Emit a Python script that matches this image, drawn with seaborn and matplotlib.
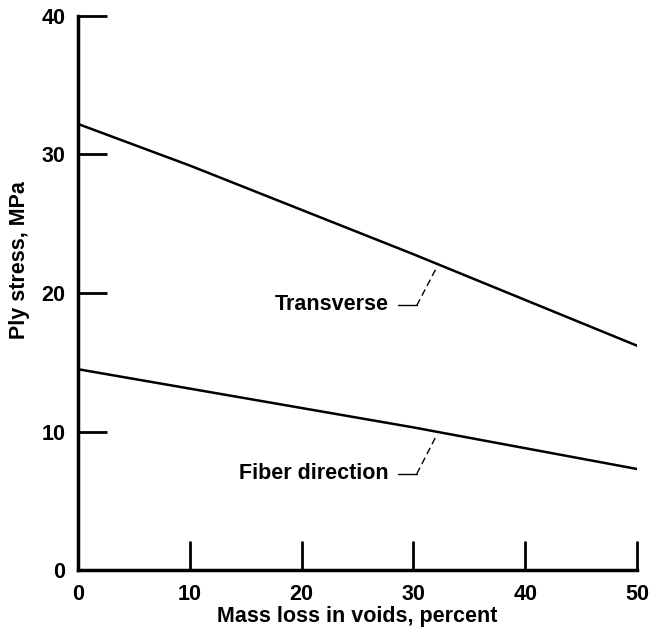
import matplotlib
matplotlib.use("Agg")
import matplotlib.pyplot as plt
import seaborn as sns
import pandas as pd

mass_loss = [0, 10, 20, 30, 40, 50]
transverse = [32.2, 29.2, 26.0, 22.8, 19.5, 16.2]
fiber = [14.5, 13.1, 11.7, 10.3, 8.8, 7.3]
x_ticks = [0, 10, 20, 30, 40, 50]
y_ticks = [0, 10, 20, 30, 40]

df = pd.DataFrame({
    "x": mass_loss * 2,
    "y": transverse + fiber,
    "series": ["Transverse"] * len(mass_loss) + ["Fiber direction"] * len(mass_loss),
})

sns.set_style("ticks")
plt.rcParams["font.family"] = ["Liberation Sans", "DejaVu Sans"]
plt.rcParams["font.weight"] = "bold"
plt.rcParams["text.color"] = "black"
plt.rcParams["axes.labelcolor"] = "black"
plt.rcParams["xtick.color"] = "black"
plt.rcParams["ytick.color"] = "black"

FS = 15.5

fig = plt.figure(figsize=(6.56, 6.37), dpi=100)
ax = fig.add_axes([0.119, 0.105, 0.852, 0.87])

sns.lineplot(data=df, x="x", y="y", hue="series", palette=["black", "black"],
             linewidth=1.8, legend=False, ax=ax)

ax.set_xlim(0, 50)
ax.set_ylim(0, 40)
ax.set_xticks(x_ticks)
ax.set_yticks(y_ticks)
ax.tick_params(axis="both", direction="in", length=21, width=2, labelsize=FS,
               colors="black", labelcolor="black")
ax.tick_params(axis="x", pad=10)
ax.tick_params(axis="y", pad=9)
for lab in ax.get_xticklabels() + ax.get_yticklabels():
    lab.set_fontweight("bold")
sns.despine(ax=ax)
for s in ["left", "bottom"]:
    ax.spines[s].set_linewidth(2.5)
    ax.spines[s].set_color("black")

ax.set_xlabel("Mass loss in voids, percent", fontsize=FS, fontweight="bold",
              color="black", labelpad=1)
ax.set_ylabel("Ply stress, MPa", fontsize=FS, fontweight="bold", color="black")
ax.yaxis.set_label_coords(-0.086, 0.56)

# annotations with leaders
ax.text(27.8, 19.2, "Transverse", ha="right", va="center", fontsize=FS,
        fontweight="bold", color="black")
ax.plot([28.6, 30.3], [19.1, 19.1], color="black", lw=1)
ax.plot([30.3, 32.05], [19.1, 21.8], color="black", lw=1, ls=(0, (5, 3)))

ax.text(27.8, 7.0, "Fiber direction", ha="right", va="center", fontsize=FS,
        fontweight="bold", color="black")
ax.plot([28.6, 30.3], [6.95, 6.95], color="black", lw=1)
ax.plot([30.3, 32.05], [6.95, 9.7], color="black", lw=1, ls=(0, (5, 3)))

fig.savefig("out.png", dpi=100)
